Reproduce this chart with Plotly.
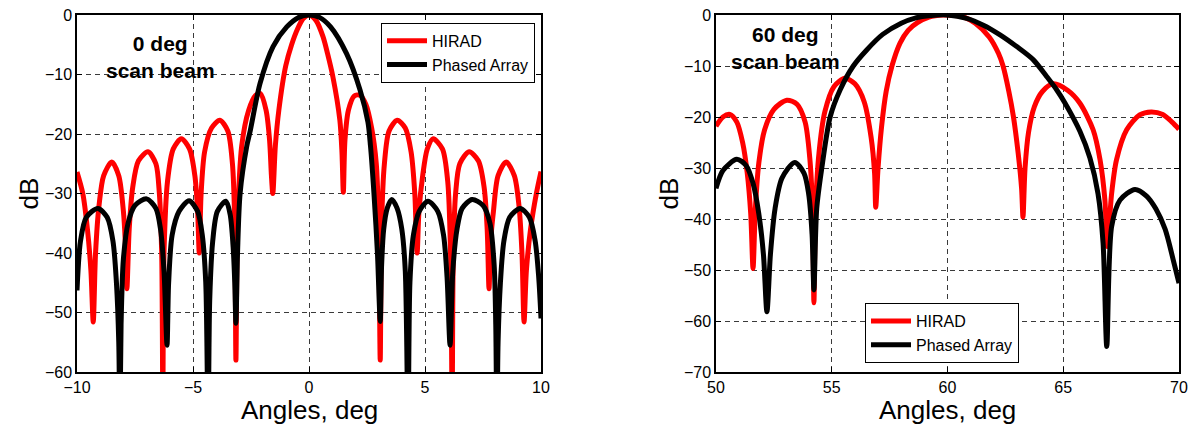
import plotly.graph_objects as go
from plotly.subplots import make_subplots

# ---- 0 deg scan beam (left panel) ----
hirad0_x = [-10, -9.75, -9.55, -9.4, -9.3,
            -9.2, -9.05, -8.85, -8.5, -8.2, -8.0, -7.92, -7.85,
            -7.75, -7.6, -7.35, -6.94, -6.6, -6.45, -6.35, -6.3,
            -6.25, -6.1, -5.85, -5.5, -5.15, -4.92, -4.8, -4.73,
            -4.65, -4.5, -4.2, -3.84, -3.5, -3.3, -3.2, -3.15,
            -3.08, -2.9, -2.6, -2.3, -2.1, -1.85, -1.7, -1.62, -1.56,
            -1.45, -1.3, -1.0, -0.75, -0.5, -0.25, 0,
            0.3, 0.6, 0.8, 1.03, 1.33, 1.42, 1.48,
            1.55, 1.7, 1.95, 2.2, 2.45, 2.7, 2.9, 3.0, 3.07,
            3.13, 3.25, 3.45, 3.8, 4.15, 4.4, 4.56, 4.66,
            4.74, 4.9, 5.1, 5.35, 5.75, 5.98, 6.1, 6.17,
            6.22, 6.32, 6.5, 6.9, 7.3, 7.55, 7.68, 7.76,
            7.83, 7.95, 8.15, 8.5, 8.85, 9.05, 9.18, 9.27,
            9.37, 9.55, 9.8, 10]
hirad0_y = [-26.4, -30, -36, -43, -51.6,
            -40, -32, -27, -24.7, -27, -33, -38, -46,
            -36, -29, -24.5, -23, -25, -30, -40, -65,
            -40, -28, -22.5, -20.8, -22.5, -27, -33, -40,
            -30, -23, -19, -17.7, -19.5, -25, -35, -58,
            -35, -22, -16, -13.5, -13.2, -16, -21, -27, -30,
            -22, -16, -8.5, -5, -2.4, -0.6, 0,
            -0.9, -3.6, -6.5, -10.4, -17.7, -23, -29.8,
            -21, -16, -13.6, -13.5, -15, -19, -25, -35, -58,
            -35, -25, -19.5, -17.7, -19, -23, -30, -40,
            -33, -27, -22.5, -20.8, -22.5, -28, -40, -65,
            -40, -30, -25, -23, -24.5, -29, -36, -46,
            -38, -33, -27, -24.7, -27, -32, -40, -51.6,
            -43, -36, -30, -26.3]

phased0_x = [-10, -9.85, -9.6, -9.1, -8.7, -8.45, -8.3, -8.2, -8.15,
             -8.1, -8.0, -7.8, -7.5, -7.0, -6.6, -6.4, -6.25, -6.12,
             -6.05, -5.9, -5.6, -5.17, -4.8, -4.6, -4.45, -4.35,
             -4.28, -4.15, -3.95, -3.58, -3.4, -3.27, -3.2, -3.15,
             -3.08, -2.97, -2.68, -2.53, -2.11, -1.55, -0.96, -0.45, 0,
             0.45, 0.93, 1.62, 2.2, 2.54, 2.65, 2.8, 2.95, 3.07,
             3.13, 3.22, 3.37, 3.57, 3.8, 4.0, 4.15, 4.27,
             4.35, 4.5, 4.75, 5.13, 5.55, 5.8, 5.95, 6.08,
             6.2, 6.38, 6.6, 7.03, 7.5, 7.8, 7.98, 8.05, 8.1,
             8.15, 8.25, 8.4, 8.65, 9.1, 9.5, 9.75, 9.9, 10]
phased0_y = [-46.3, -38, -34, -32.5, -34, -38, -45, -55, -70,
             -52, -41, -35, -32, -30.9, -32.5, -36, -43, -55.5,
             -45, -37, -33, -31.2, -33, -37, -45, -70,
             -48, -38, -33, -31.3, -33.5, -39, -45, -51.8,
             -40, -30, -22, -19.4, -11.5, -5.3, -2, -0.4, 0,
             -0.4, -2, -6.5, -12.6, -18, -22, -30, -40, -51.5,
             -42, -36, -32.5, -31, -32.5, -36, -43, -70,
             -45, -37, -33, -31.3, -33, -37, -44, -55.5,
             -43, -36, -32.5, -31, -32, -35, -42, -52, -70,
             -55, -45, -38, -34, -32.5, -34, -38, -44, -51]

# ---- 60 deg scan beam (right panel) ----
hirad60_x = [50, 50.3, 50.6, 50.9, 51.15, 51.35, 51.5, 51.6,
             51.7, 51.85, 52.1, 52.5, 53.06, 53.5, 53.85, 54.05, 54.17, 54.23,
             54.3, 54.45, 54.7, 55.1, 55.57, 56.0, 56.4, 56.7, 56.85, 56.9,
             57.0, 57.15, 57.35, 57.6, 57.95, 58.3, 58.7, 59.2, 59.8,
             60.3, 60.7, 61.2, 61.8, 62.2, 62.4, 62.65, 62.85, 63.05, 63.2, 63.26,
             63.35, 63.5, 63.75, 64.1, 64.57, 65.2, 65.72, 66.29, 66.59, 66.8, 66.9,
             67.09, 67.3, 67.74, 68.3, 68.8, 69.3, 69.7, 70]
hirad60_y = [-21.8, -20, -19.5, -21, -25, -31, -39, -49.7,
             -38, -29, -22.5, -18.5, -16.7, -17.5, -21, -28, -38, -56.4,
             -38, -27, -19, -14, -12.4, -13.5, -17, -24, -31, -37.7,
             -30, -22, -15, -10, -5.5, -3, -1.5, -0.4, 0,
             -0.1, -0.4, -1.6, -4.3, -7.5, -10, -15, -20, -27, -34, -39.6,
             -30, -23, -18, -15, -13.5, -14.8, -17.3, -22.5, -28.4, -36.3, -45.4,
             -35, -28.4, -22.5, -19.6, -19, -19.5, -21, -22.4]

phased60_x = [50, 50.3, 50.9, 51.3, 51.6, 51.85, 52.05, 52.2,
              52.35, 52.55, 52.85, 53.4, 53.8, 54.0, 54.15, 54.23,
              54.35, 54.57, 54.93, 55.36, 55.93, 56.5, 57.2, 58.0, 58.6, 59.3, 60,
              60.83, 61.55, 62.27, 62.99, 63.71, 64.29, 64.72, 65.08, 65.72, 66.15, 66.5,
              66.72, 66.88,
              67.09, 67.45, 68.1, 68.6, 69.0, 69.4, 69.75, 70]
phased60_y = [-34, -30.5, -28.3, -29.5, -33, -39, -47, -58.2,
              -47, -38, -32, -28.9, -31, -35, -43, -53.9,
              -38, -30, -20, -14.7, -10, -6.9, -3.8, -1.6, -0.6, -0.1, 0,
              -0.65, -2, -3.9, -6.2, -8.8, -12.1, -14.7, -17.3, -22.8, -28, -35,
              -44.7, -65,
              -41.5, -36.3, -34.2, -35.5, -38, -42, -48, -52.6]

red = '#ff0000'
font_main = 'Liberation Sans, Arial, sans-serif'

# the page body adds an 8px margin, so the figure is 8px smaller and all
# positions below are (reference pixel - 8)
W, H = 1188, 425

fig = make_subplots(rows=1, cols=2)

def curve(x, y, name, color, legend):
    return go.Scatter(x=x, y=y, name=name, mode='lines', legend=legend,
                      line=dict(color=color, width=5, shape='spline', smoothing=0.8))

fig.add_trace(curve(hirad0_x, hirad0_y, 'HIRAD', red, 'legend'), row=1, col=1)
fig.add_trace(curve(phased0_x, phased0_y, 'Phased Array', 'black', 'legend'), row=1, col=1)
fig.add_trace(curve(hirad60_x, hirad60_y, 'HIRAD', red, 'legend2'), row=1, col=2)
fig.add_trace(curve(phased60_x, phased60_y, 'Phased Array', 'black', 'legend2'), row=1, col=2)

axis_style = dict(showline=True, linecolor='black', linewidth=1.5, mirror='ticks',
                  ticks='inside', ticklen=5, tickcolor='black',
                  showgrid=True, gridcolor='#3a3a3a', gridwidth=1, griddash='5px,4px',
                  zeroline=False, automargin=False, ticklabeloverflow='allow',
                  tickfont=dict(size=16, color='black', family=font_main))

fig.update_xaxes(axis_style)
fig.update_yaxes(axis_style)
fig.update_xaxes(range=[-10, 10], dtick=5, domain=[69 / W, 533 / W], row=1, col=1)
fig.update_yaxes(range=[-60, 0], dtick=10, row=1, col=1)
fig.update_xaxes(range=[50, 70], dtick=5, domain=[708 / W, 1171 / W], row=1, col=2)
fig.update_yaxes(range=[-70, 0], dtick=10, row=1, col=2)

legend_style = dict(bgcolor='white', bordercolor='black', borderwidth=1,
                    font=dict(size=16, color='black', family=font_main),
                    tracegroupgap=0, itemwidth=40)

annotations = [
    dict(text='<b>0 deg<br>scan beam</b>', x=152 / W, y=0.882, font=dict(size=21)),
    dict(text='<b>60 deg<br>scan beam</b>', x=777 / W, y=0.908, font=dict(size=21)),
    dict(text='Angles, deg', x=301 / W, y=-0.106, font=dict(size=26)),
    dict(text='Angles, deg', x=940 / W, y=-0.106, font=dict(size=26)),
    dict(text='dB', x=20 / W, y=0.5, textangle=-90, font=dict(size=26)),
    dict(text='dB', x=660 / W, y=0.5, textangle=-90, font=dict(size=26)),
]
for a in annotations:
    a.update(xref='paper', yref='paper', showarrow=False, xanchor='center', yanchor='middle')
    a['font'].update(color='black', family=font_main)

fig.update_layout(
    width=W, height=H,
    margin=dict(l=0, r=0, t=7, b=61),
    plot_bgcolor='white', paper_bgcolor='white',
    font=dict(family=font_main, color='black'),
    legend=dict(legend_style, x=527 / W, y=0.978, xanchor='right', yanchor='top'),
    legend2=dict(legend_style, x=857 / W, y=0.025, xanchor='left', yanchor='bottom'),
    annotations=annotations,
)

fig.write_html("out.html")
